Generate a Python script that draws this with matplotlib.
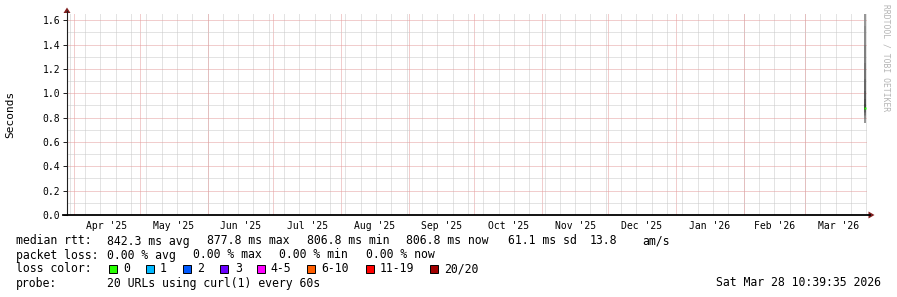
import matplotlib
matplotlib.use('Agg')
import matplotlib.pyplot as plt
import matplotlib.dates as mdates
from matplotlib.patches import Rectangle, Polygon
from matplotlib.lines import Line2D
from datetime import datetime, timedelta

W, H, DPI = 897, 297, 100

# ---------------- data ----------------
month_starts = [datetime(2025, m, 1) for m in range(4, 13)] + [datetime(2026, m, 1) for m in range(1, 4)]
month_labels = ["Apr '25", "May '25", "Jun '25", "Jul '25", "Aug '25", "Sep '25",
                "Oct '25", "Nov '25", "Dec '25", "Jan '26", "Feb '26", "Mar '26"]
y_ticks = [0.0, 0.2, 0.4, 0.6, 0.8, 1.0, 1.2, 1.4, 1.6]
y_tick_labels = ["0.0", "0.2", "0.4", "0.6", "0.8", "1.0", "1.2", "1.4", "1.6"]
x_start = datetime(2025, 3, 28, 19, 0)
x_end = datetime(2026, 3, 29, 8, 40)
sample_time = datetime(2026, 3, 28, 10, 39)
smoke_pings = [0.755, 0.79, 0.81, 0.825, 0.84, 0.85, 0.86, 0.865, 0.87, 0.875,
               0.88, 0.89, 0.91, 0.95, 1.02, 1.12, 1.25, 1.40, 1.55, 1.70]
median_rtt = 0.877

legend_rtt = ["median rtt:", "842.3 ms avg", "877.8 ms max", "806.8 ms min",
              "806.8 ms now", "61.1 ms sd", "13.8", "am/s"]
legend_loss = ["packet loss:", "0.00 % avg", "0.00 % max", "0.00 % min", "0.00 % now"]
loss_labels = ["0", "1", "2", "3", "4-5", "6-10", "11-19", "20/20"]
loss_colors = ["#26ff00", "#00b8ff", "#0059ff", "#6a00ff", "#ff00ff", "#ff5e00", "#ff0000", "#a10000"]
probe_text = "20 URLs using curl(1) every 60s"
stamp_text = "Sat Mar 28 10:39:35 2026"

# ---------------- layout ----------------
MONO = "DejaVu Sans Mono"
fig = plt.figure(figsize=(W / DPI, H / DPI), dpi=DPI)
fig.patch.set_facecolor("white")

PX_L, PX_R, PX_B, PX_T = 67, 867, 215, 14
ax = fig.add_axes([PX_L / W, (H - PX_B) / H, (PX_R - PX_L) / W, (PX_B - PX_T) / H])
ax.set_facecolor("white")
px_per_unit = (PX_B - 20.3) / 1.6
ax.set_ylim(0, (PX_B - PX_T) / px_per_unit)
ax.set_xlim(mdates.date2num(x_start), mdates.date2num(x_end))
for s in ax.spines.values():
    s.set_visible(False)

grid_kw = dict(lw=0.72, linestyle=(0, (1, 1)), zorder=1)
gcol = "#c8c8c8"
mcol = "#e49c9c"

# weekly minor verticals (Sundays)
d = datetime(2025, 3, 30)
while d < x_end:
    ax.axvline(mdates.date2num(d), color=gcol, **grid_kw)
    d += timedelta(days=7)
# monthly major verticals
for m in month_starts:
    ax.axvline(mdates.date2num(m), color=mcol, **grid_kw)
# horizontal grid
for k in range(1, 17):
    v = k * 0.1
    ax.axhline(v, color=(mcol if k % 2 == 0 else gcol), **grid_kw)

# x labels at mid-month
mids = []
for i, m in enumerate(month_starts):
    nxt = month_starts[i + 1] if i + 1 < len(month_starts) else datetime(2026, 4, 1)
    mids.append(mdates.date2num(m) + (mdates.date2num(nxt) - mdates.date2num(m)) / 2)
ax.set_xticks(mids)
ax.set_xticklabels(month_labels, fontfamily=MONO, fontsize=7)
ax.tick_params(axis="x", length=0, pad=4)
ax.set_yticks(y_ticks)
ax.set_yticklabels(y_tick_labels, fontfamily=MONO, fontsize=7)
ax.tick_params(axis="y", length=3, width=0.7, color="#1f1f1f", pad=2)

# smoke
t = mdates.date2num(sample_time)
n = len(smoke_pings)
half = n / 2
for j in range(n - 1):
    dist = abs(j + 0.5 - (half - 0.5)) - 0.5
    g = int(30 + 13 * dist)
    g = max(0, min(255, g))
    ax.vlines(t, smoke_pings[j], smoke_pings[j + 1], colors="#%02x%02x%02x" % (g, g, g),
              lw=1.3, zorder=3)
ax.plot([t], [median_rtt], marker="s", ms=1.8, color=loss_colors[0], mec="none", zorder=4)

def fx(x):
    return x / W

def fy(y):
    return 1 - y / H

fig.add_artist(Line2D([fx(67), fx(67)], [fy(215), fy(11)], color="#1f1f1f", lw=0.8))
fig.add_artist(Line2D([fx(63), fx(870)], [fy(215), fy(215)], color="#000000", lw=1.3))
arrow_col = (0.5, 0.12, 0.12)
fig.add_artist(Polygon([[fx(63.5), fy(13)], [fx(70.5), fy(13)], [fx(67), fy(7.5)]],
                       closed=True, transform=fig.transFigure, color=arrow_col, lw=0))
fig.add_artist(Polygon([[fx(868.5), fy(211.5)], [fx(868.5), fy(218.5)], [fx(874.5), fy(215)]],
                       closed=True, transform=fig.transFigure, color=arrow_col, lw=0))

fig.text(fx(10), fy(114), "Seconds", rotation=90, ha="center", va="center",
         fontfamily=MONO, fontsize=8)
fig.text(fx(886), fy(4), "RRDTOOL / TOBI OETIKER", rotation=270, ha="center", va="top",
         fontfamily=MONO, fontsize=5.8, color="#b4b4b4")

LFS = 8.3
def txt(x, y, s, **kw):
    fig.text(fx(x), fy(y), s, ha=kw.pop("ha", "left"), va="center",
             fontfamily=MONO, fontsize=LFS, **kw)

rtt_x = [16, 107, 207, 307, 406, 508, 590, 642]
for x, s in zip(rtt_x, legend_rtt):
    txt(x, 241, s)
loss_x = [16, 107, 193, 279, 365.5]
for x, s in zip(loss_x, legend_loss):
    txt(x, 255, s)
txt(16, 269, "loss color:")
box_x = [109, 146, 183, 220, 257, 307, 366, 430]
lab_x = [123, 160, 197.5, 235, 270.5, 321.5, 380, 444]
for bx, lx, c, s in zip(box_x, lab_x, loss_colors, loss_labels):
    fig.add_artist(Rectangle((fx(bx), fy(273)), 8 / W, 8 / H, transform=fig.transFigure,
                             facecolor=c, edgecolor="black", lw=0.7))
    txt(lx, 269, s)
txt(16, 283, "probe:")
txt(107, 283, probe_text)
txt(881, 283, stamp_text, ha="right")

fig.savefig("out.png", dpi=DPI, facecolor="white")
